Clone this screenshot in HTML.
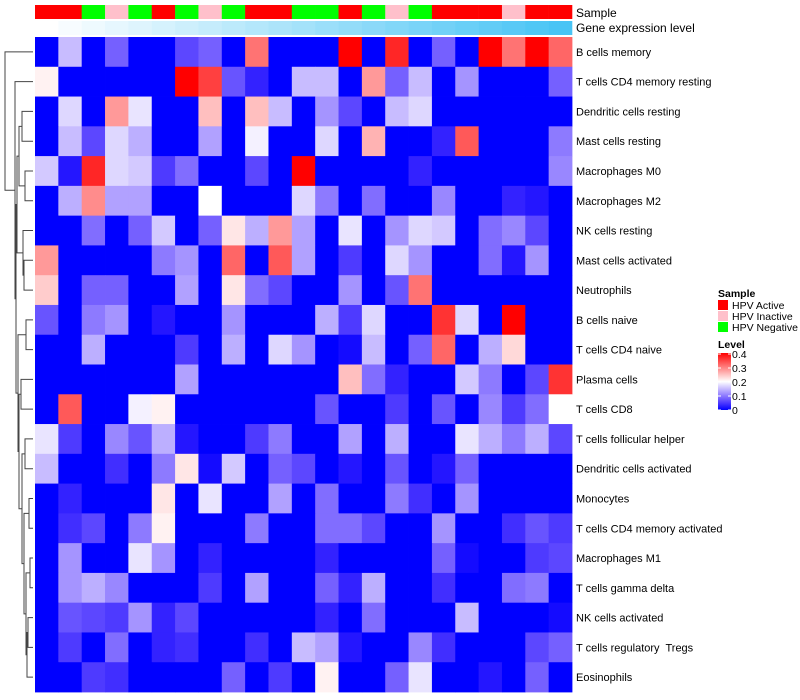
<!DOCTYPE html>
<html><head><meta charset="utf-8"><style>
body{margin:0;background:#fff;}
svg{display:block;font-family:"Liberation Sans",sans-serif;}
text{white-space:pre;}
</style></head><body>
<svg id="chart" width="800" height="700"></svg>
<script>
const rowLabels=["B cells memory","T cells CD4 memory resting","Dendritic cells resting","Mast cells resting","Macrophages M0","Macrophages M2","NK cells resting","Mast cells activated","Neutrophils","B cells naive","T cells CD4 naive","Plasma cells","T cells CD8","T cells follicular helper","Dendritic cells activated","Monocytes","T cells CD4 memory activated","Macrophages M1","T cells gamma delta","NK cells activated","T cells regulatory  Tregs","Eosinophils"];
const sampleGroups=["A","A","N","I","N","A","N","I","N","A","A","N","N","A","N","I","N","A","A","A","I","A","A"];
const geneLevel=[0,1,2,3,4,5,6,7,8,9,10,11,12,13,14,15,16,17,18,19,20,21,22];
const values=[
[0,.15,0,.08,0,0,.06,.08,0,.31,0,0,0,.4,0,.37,0,.08,0,.4,.31,.4,.32],
[.21,0,0,0,0,0,.4,.35,.07,.03,0,.15,.15,0,.28,.08,.15,0,.12,0,0,0,.08],
[0,.17,0,.28,.18,0,0,.25,0,.25,.15,0,.12,.06,0,.15,.17,0,0,0,0,0,0],
[0,.15,.06,.17,.14,0,0,.13,0,.19,0,0,.17,0,.26,0,0,.03,.33,0,0,0,.1],
[.16,.02,.37,.17,.16,.05,.09,0,0,.06,0,.4,0,0,0,0,.03,0,0,0,0,0,.11],
[0,.14,.29,.13,.13,0,0,.2,0,0,0,.17,.1,0,.09,0,0,.11,0,0,.03,.02,0],
[0,0,.09,0,.08,.16,0,.08,.22,.14,.28,.13,0,.18,0,.12,.17,.16,0,.09,.11,.06,0],
[.28,0,0,0,0,.1,.12,0,.32,0,.33,.13,0,.05,0,.17,.12,0,0,.09,.02,.12,0],
[.24,0,.08,.08,0,0,.13,0,.22,.09,.06,0,0,.12,0,.07,.31,0,0,0,0,0,0],
[.07,0,.1,.12,0,.02,0,0,.12,0,0,0,.14,.05,.17,0,0,.36,.17,0,.4,0,0],
[0,0,.14,0,0,0,.05,0,.14,0,.17,.12,0,.01,.15,0,.08,.32,0,.14,.23,0,0],
[0,0,0,0,0,0,.13,0,0,0,0,0,0,.25,.09,.03,0,0,.16,.1,0,.06,.36],
[0,.33,0,0,.19,.21,0,0,0,0,0,0,.07,0,0,.05,0,.07,0,.11,.05,.09,.2],
[.18,.05,0,.11,.07,.14,.02,0,0,.05,.1,0,0,.13,0,.14,0,0,.18,.14,.1,.14,.06],
[.15,0,0,.04,0,.1,.22,.01,.16,0,.08,.06,0,.02,0,.07,0,.02,.08,0,0,0,0],
[0,.03,0,0,0,.22,0,.18,0,0,.13,0,.09,0,0,.1,.04,0,.12,0,0,0,0],
[0,.04,.06,0,.1,.21,0,0,0,.1,0,0,.09,.09,.06,0,0,.12,0,0,.04,.07,.05],
[0,.12,0,0,.18,.12,0,.03,0,0,0,0,.03,0,0,0,0,.08,.01,0,0,.05,.06],
[0,.12,.14,.11,0,0,0,.05,0,.13,0,0,.08,.03,.14,0,0,.04,0,0,.09,.1,0],
[0,.07,.06,.05,.12,.03,.06,0,0,0,0,0,.03,0,.09,0,0,0,.15,0,0,0,.01],
[0,.05,0,.09,0,.03,.04,0,0,.04,0,.15,.13,.02,0,0,.11,.04,0,0,0,.06,.08],
[0,0,.05,.04,0,0,0,0,.08,0,.05,0,.21,0,0,.08,.18,0,0,.02,0,.08,0]
];
const levelTicks=[0,0.1,0.2,0.3,0.4];

const NS="http://www.w3.org/2000/svg";
const svg=document.getElementById('chart');
const X0=35,X1=572,Y0=37,Y1=692;
const nC=values[0].length,nR=values.length;
const cw=(X1-X0)/nC,rh=(Y1-Y0)/nR;
const xPos=c=>X0+c*cw;
const yPos=r=>Y0+r*rh;
function mk(tag,attrs,parent){const e=document.createElementNS(NS,tag);for(const k in attrs)e.setAttribute(k,attrs[k]);(parent||svg).appendChild(e);return e;}
function lerp(a,b,t){return Math.round(a+(b-a)*t);}
function colorOf(v){v=Math.max(0,Math.min(0.4,v));
 if(v<=0.2){const t=Math.pow(v/0.2,0.85);return `rgb(${lerp(0,255,t)},${lerp(0,255,Math.pow(t,1.25))},255)`;}
 const t=(v-0.2)/0.2;return `rgb(255,${lerp(255,0,t)},${lerp(255,0,t)})`;}
const sampleColor={A:"#ff0000",I:"#ffc0cb",N:"#00ff00"};
function geneColor(g){const t=g/(geneLevel.length-1);return `rgb(${lerp(255,72,t)},${lerp(255,196,t)},${lerp(255,245,t)})`;}

sampleGroups.forEach((s,c)=>{
 const r=mk('rect',{x:xPos(c),y:5,width:cw+0.3,height:14,fill:sampleColor[s]});
 
 
});
geneLevel.forEach((g,c)=>{
 const r=mk('rect',{x:xPos(c),y:21,width:cw+0.3,height:14,fill:geneColor(g)});
 
 
});
let t=mk('text',{x:576,y:17,'font-size':12});t.textContent="Sample";

t=mk('text',{x:576,y:32,'font-size':12});t.textContent="Gene expression level";


values.forEach((row,r)=>{
 row.forEach((v,c)=>{
  const e=mk('rect',{x:xPos(c),y:yPos(r),width:cw+0.4,height:rh+0.4,fill:colorOf(v)});
  
  
 });
 const lb=mk('text',{x:576,y:yPos(r)+rh/2+4,'font-size':11});lb.textContent=rowLabels[r];
 
 
});

const g=mk('g',{stroke:'#444','stroke-width':1,fill:'none'});


const rc=i=>yPos(i)+rh/2;
function node(x,a,b){
 mk('path',{d:`M${a.x},${a.y}H${x}V${b.y}H${b.x}`},g);return {x:x,y:(a.y+b.y)/2};}
const leaf=i=>({x:33,y:rc(i)});
const n23=node(22,leaf(2),leaf(3));
const n45=node(25,leaf(4),leaf(5));
const n25=node(19,n23,n45);
const n78=node(24,leaf(7),leaf(8));
const n68=node(23,leaf(6),n78);
const n28=node(17,n25,n68);
const n910=node(26,leaf(9),leaf(10));
const n1112=node(21,leaf(11),leaf(12));
const n1314=node(25,leaf(13),leaf(14));
const n1516=node(29,leaf(15),leaf(16));
const n1718=node(30,leaf(17),leaf(18));
const n1920=node(28,leaf(19),leaf(20));
const n1721=node(26,n1718,node(27,n1920,leaf(21)));
const n1521=node(24,n1516,n1721);
const n1321=node(22,n1314,n1521);
const n1121=node(19,n1112,n1321);
const n921=node(18,n910,n1121);
const n221=node(16,n28,n921);
const n121=node(15,leaf(1),n221);
node(5,leaf(0),n121);

t=mk('text',{x:718,y:297,'font-size':10.5,'font-weight':'bold'});t.textContent="Sample";

[["A","HPV Active"],["I","HPV Inactive"],["N","HPV Negative"]].forEach(([k,l],i)=>{
 const r=mk('rect',{x:718,y:300+i*11,width:10,height:10,fill:sampleColor[k]});
 
 const tx=mk('text',{x:732,y:309+i*11,'font-size':10.5});tx.textContent=l;
 
});
t=mk('text',{x:718,y:348,'font-size':10.5,'font-weight':'bold'});t.textContent="Level";

const defs=mk('defs',{});
const lg=mk('linearGradient',{id:'lvl',x1:0,y1:1,x2:0,y2:0},defs);
[0,0.05,0.1,0.15,0.2,0.3,0.4].forEach(v=>mk('stop',{offset:v/0.4,'stop-color':colorOf(v)},lg));
const cb=mk('rect',{x:718,y:353,width:13,height:57,fill:'url(#lvl)'});

const cbY=v=>410-v/0.4*56;
levelTicks.forEach(v=>{
 mk('line',{x1:718,x2:721,y1:cbY(v),y2:cbY(v),stroke:'#fff'});
 mk('line',{x1:728,x2:731,y1:cbY(v),y2:cbY(v),stroke:'#fff'});
 const tx=mk('text',{x:732,y:cbY(v)+4,'font-size':10.5});tx.textContent=String(v);
 
});
</script>
</body></html>
